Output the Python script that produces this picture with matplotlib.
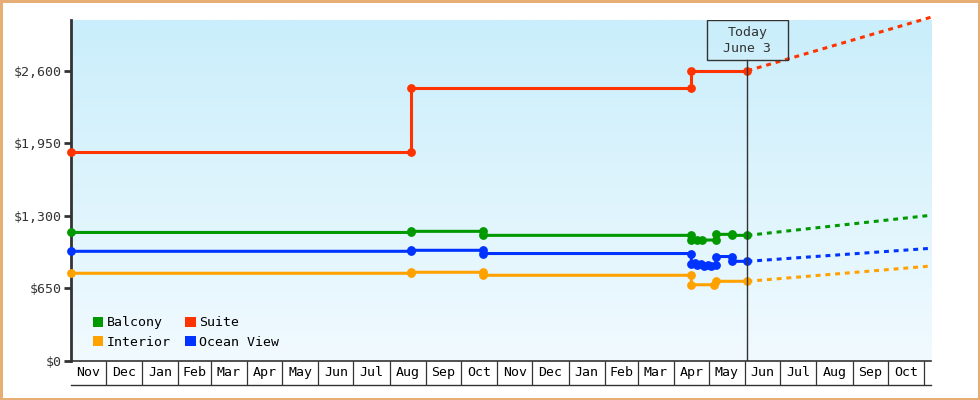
import datetime as dt

import numpy as np
import matplotlib
matplotlib.use("Agg")
import matplotlib.pyplot as plt
import matplotlib.dates as mdates
from matplotlib.colors import LinearSegmentedColormap
from matplotlib.patches import Patch, Rectangle
from matplotlib.transforms import blended_transform_factory

plt.rcParams['font.family'] = ['DejaVu Sans Mono']

# observed prices (duplicate dates = price change on that day)
suite_dates = ['2017-11-01', '2018-08-19', '2018-08-19', '2019-04-16',
               '2019-04-16', '2019-06-03']
suite_prices = [1875, 1875, 2445, 2445, 2600, 2600]

balcony_dates = ['2017-11-01', '2018-08-19', '2018-08-19', '2018-10-20',
                 '2018-10-20', '2019-04-16', '2019-04-16', '2019-04-21',
                 '2019-04-25', '2019-05-07', '2019-05-07', '2019-05-21',
                 '2019-05-21', '2019-06-03']
balcony_prices = [1150, 1150, 1160, 1160, 1124, 1124, 1085, 1082,
                  1082, 1082, 1133, 1133, 1124, 1124]

ocean_dates = ['2017-11-01', '2018-08-19', '2018-08-19', '2018-10-20',
               '2018-10-20', '2019-04-16', '2019-04-16', '2019-04-19',
               '2019-04-21', '2019-04-24', '2019-04-27', '2019-04-30',
               '2019-05-03', '2019-05-07', '2019-05-07', '2019-05-21',
               '2019-05-21', '2019-06-03']
ocean_prices = [981, 981, 990, 990, 961, 961, 867, 876, 858, 867, 849,
                858, 849, 858, 934, 934, 891, 891]

interior_dates = ['2017-11-01', '2018-08-19', '2018-08-19', '2018-10-20',
                  '2018-10-20', '2019-04-16', '2019-04-16', '2019-05-05',
                  '2019-05-07', '2019-06-03']
interior_prices = [784, 784, 793, 793, 766, 766, 681, 681, 712, 712]

# projected price at the right edge
forecast_date = '2019-11-07'
forecast = {'Balcony': 1304, 'Suite': 3080, 'Interior': 849,
            'Ocean View': 1008}

today = '2019-06-03'
today_label = 'Today\nJune 3'
y_ticks = [0, 650, 1300, 1950, 2600]

colors = {'Balcony': '#009900', 'Suite': '#ff3300',
          'Interior': '#ffa200', 'Ocean View': '#0033ff'}
series = {
    'Suite': (suite_dates, suite_prices),
    'Balcony': (balcony_dates, balcony_prices),
    'Ocean View': (ocean_dates, ocean_prices),
    'Interior': (interior_dates, interior_prices),
}

ink = '#333333'


def to_dates(strs):
    return [dt.datetime.strptime(s, '%Y-%m-%d') for s in strs]


fig = plt.figure(figsize=(9.8, 4), dpi=100)
fig.patch.set_edgecolor('#e6ae74')
fig.patch.set_linewidth(2.5)
ax = fig.add_axes([70.5 / 980, 39.3 / 400, 860.5 / 980, 340.7 / 400])

x0 = dt.datetime(2017, 11, 1)
x1 = to_dates([forecast_date])[0]

# background gradient
cmap = LinearSegmentedColormap.from_list('bg', ['#caeefb', '#f1faff'])
ax.imshow(np.linspace(0, 1, 256).reshape(-1, 1), cmap=cmap, aspect='auto',
          extent=[0, 1, 0, 1], transform=ax.transAxes, zorder=0)
ax.set_xlim(x0, x1)
ax.set_ylim(0, 3055)

for name, (ds, ps) in series.items():
    d = to_dates(ds)
    ax.plot(d, ps, color=colors[name], lw=2.2, marker='o', ms=5.3,
            solid_joinstyle='miter', clip_on=False, zorder=3)
    ax.plot([d[-1], x1], [ps[-1], forecast[name]], color=colors[name],
            lw=2.2, linestyle=(0, (1.6, 1.6)), clip_on=False, zorder=2)

# today marker
t = to_dates([today])[0]
xl = ax.get_xlim()
tf = (mdates.date2num(t) - xl[0]) / (xl[1] - xl[0])
box_h = 40.3 / 340.7
box_w = 80.7 / 860.5
ax.axvline(t, ymin=0, ymax=1 - box_h, color=ink, lw=1, zorder=4)
ax.add_patch(Rectangle((tf - box_w / 2, 1 - box_h), box_w, box_h,
                       transform=ax.transAxes, fill=False, edgecolor=ink,
                       lw=1, zorder=4))
ax.text(tf, 1 - box_h / 2, today_label, transform=ax.transAxes,
        ha='center', va='center', fontsize=9.5, color=ink,
        linespacing=1.3, zorder=5)

# y axis
ax.set_yticks(y_ticks)
ax.set_yticklabels(['${:,}'.format(v) for v in y_ticks])
ax.tick_params(axis='y', length=5, width=2, color=ink, labelcolor=ink,
               labelsize=9.5, pad=1.5)

# x axis: month cells
months = []
m = dt.datetime(2017, 12, 1)
while m <= dt.datetime(2019, 11, 1):
    months.append(m)
    m = dt.datetime(m.year + m.month // 12, m.month % 12 + 1, 1)
ax.set_xticks(months)
ax.set_xticklabels([])
cell = 24.3 / 340.7
ax.tick_params(axis='x', length=24.3 * 0.72, width=0.9, color=ink,
               direction='out')
trans = blended_transform_factory(ax.transData, ax.transAxes)
starts = [x0] + months[:-1]
for s, e in zip(starts, months):
    mid = s + (e - s) / 2
    ax.text(mid, -cell / 2, s.strftime('%b'), transform=trans,
            ha='center', va='center', fontsize=9.5, color='black')
ax.plot([0, 1], [-cell, -cell], transform=ax.transAxes, color=ink,
        lw=1, clip_on=False)

for side in ['top', 'right']:
    ax.spines[side].set_visible(False)
ax.spines['left'].set_linewidth(2)
ax.spines['left'].set_color(ink)
ax.spines['bottom'].set_linewidth(1.2)
ax.spines['bottom'].set_color(ink)

order = ['Balcony', 'Interior', 'Suite', 'Ocean View']
handles = [Patch(facecolor=colors[n], edgecolor='none', label=n)
           for n in order]
ax.legend(handles=handles, ncol=2, loc='lower left',
          bbox_to_anchor=(0.026, 0.035), frameon=False, fontsize=9.5,
          handlelength=0.8, handleheight=0.8, handletextpad=0.26,
          columnspacing=1.1, borderpad=0, borderaxespad=0,
          labelspacing=0.5)

fig.savefig('out.png', dpi=100)
